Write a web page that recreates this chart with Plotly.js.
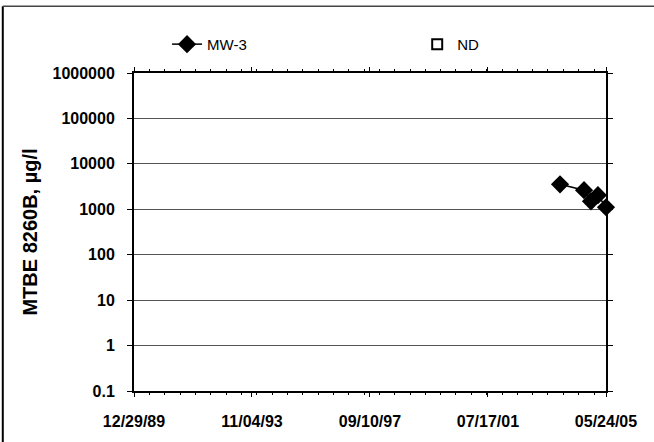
<!DOCTYPE html>
<html>
<head>
<meta charset="utf-8">
<script src="https://cdn.plot.ly/plotly-3.0.1.min.js"></script>
<style>html,body{margin:0;padding:0;background:#fff;}#chart{width:654px;height:442px;}</style>
</head>
<body>
<div id="chart"></div>
<script>
// Data
const mw3Dates = ['2003-11-23', '2004-09-04', '2004-11-26', '2005-02-17', '2005-05-24'];
const mw3Values = [3550, 2630, 1500, 2040, 1110];
const ndDates = [null];   // no non-detect samples shown
const ndValues = [null];
const xTickDates = ['1989-12-29', '1993-11-04', '1997-09-10', '2001-07-17', '2005-05-24'];
const yTickVals = [0.1, 1, 10, 100, 1000, 10000, 100000, 1000000];
const yTickText = ['0.1', '1', '10', '100', '1000', '10000', '100000', '1000000'];

const fam = 'Arial, "Liberation Sans", sans-serif';
const tickFont = {family: fam, size: 16, color: '#000', weight: 'bold'};

const traces = [
  {
    x: mw3Dates, y: mw3Values, name: 'MW-3', type: 'scatter', mode: 'lines+markers',
    cliponaxis: false, legend: 'legend',
    line: {color: '#000', width: 1.5},
    marker: {symbol: 'diamond', size: 14, color: '#000'}
  },
  {
    x: ndDates, y: ndValues, name: 'ND', type: 'scatter', mode: 'markers',
    showlegend: true, legend: 'legend2',
    marker: {symbol: 'square-open', size: 10, color: '#000', line: {width: 2, color: '#000'}}
  }
];

const legendCommon = {
  orientation: 'h', y: 1.09, xanchor: 'left', yanchor: 'middle',
  font: {family: fam, size: 15, color: '#000'},
  bgcolor: 'rgba(0,0,0,0)'
};

const layout = {
  width: 654, height: 442,
  margin: {l: 134, r: 48, t: 73, b: 51},
  paper_bgcolor: '#fff', plot_bgcolor: '#fff',
  font: {family: fam, size: 14, color: '#000'},
  showlegend: true,
  legend: Object.assign({}, legendCommon, {x: 0.07}),
  legend2: Object.assign({}, legendCommon, {x: 0.6}),
  xaxis: {
    type: 'date',
    range: [xTickDates[0], xTickDates[xTickDates.length - 1]],
    tickvals: xTickDates,
    tickformat: '%m/%d/%y',
    showgrid: false, zeroline: false,
    showline: true, linecolor: '#000', linewidth: 2, mirror: 'ticks',
    ticks: 'outside', ticklen: 4, tickcolor: '#000',
    ticklabelstandoff: 11,
    minor: {ticks: 'outside', ticklen: 2, nticks: 8, tickcolor: '#000', showgrid: false},
    tickfont: tickFont
  },
  yaxis: {
    type: 'log',
    range: [-1, 6],
    tickvals: yTickVals, ticktext: yTickText,
    showgrid: true, gridcolor: '#555', gridwidth: 1,
    zeroline: false,
    showline: true, linecolor: '#000', linewidth: 2, mirror: 'ticks',
    ticks: 'outside', ticklen: 5, tickcolor: '#000',
    ticklabelstandoff: 9,
    tickfont: tickFont,
    title: {text: 'MTBE 8260B, µg/l', font: {family: fam, size: 20, color: '#000', weight: 'bold'}, standoff: 10}
  },
  shapes: [
    {type: 'line', xref: 'paper', yref: 'paper', x0: -0.278, x1: -0.278, y0: -0.2, y1: 1.21, line: {color: '#000', width: 2}},
    {type: 'line', xref: 'paper', yref: 'paper', x0: -0.278, x1: 1.12, y0: 1.21, y1: 1.21, line: {color: '#444', width: 1.5}}
  ]
};

Plotly.newPlot('chart', traces, layout, {staticPlot: true, displayModeBar: false});
</script>
</body>
</html>
